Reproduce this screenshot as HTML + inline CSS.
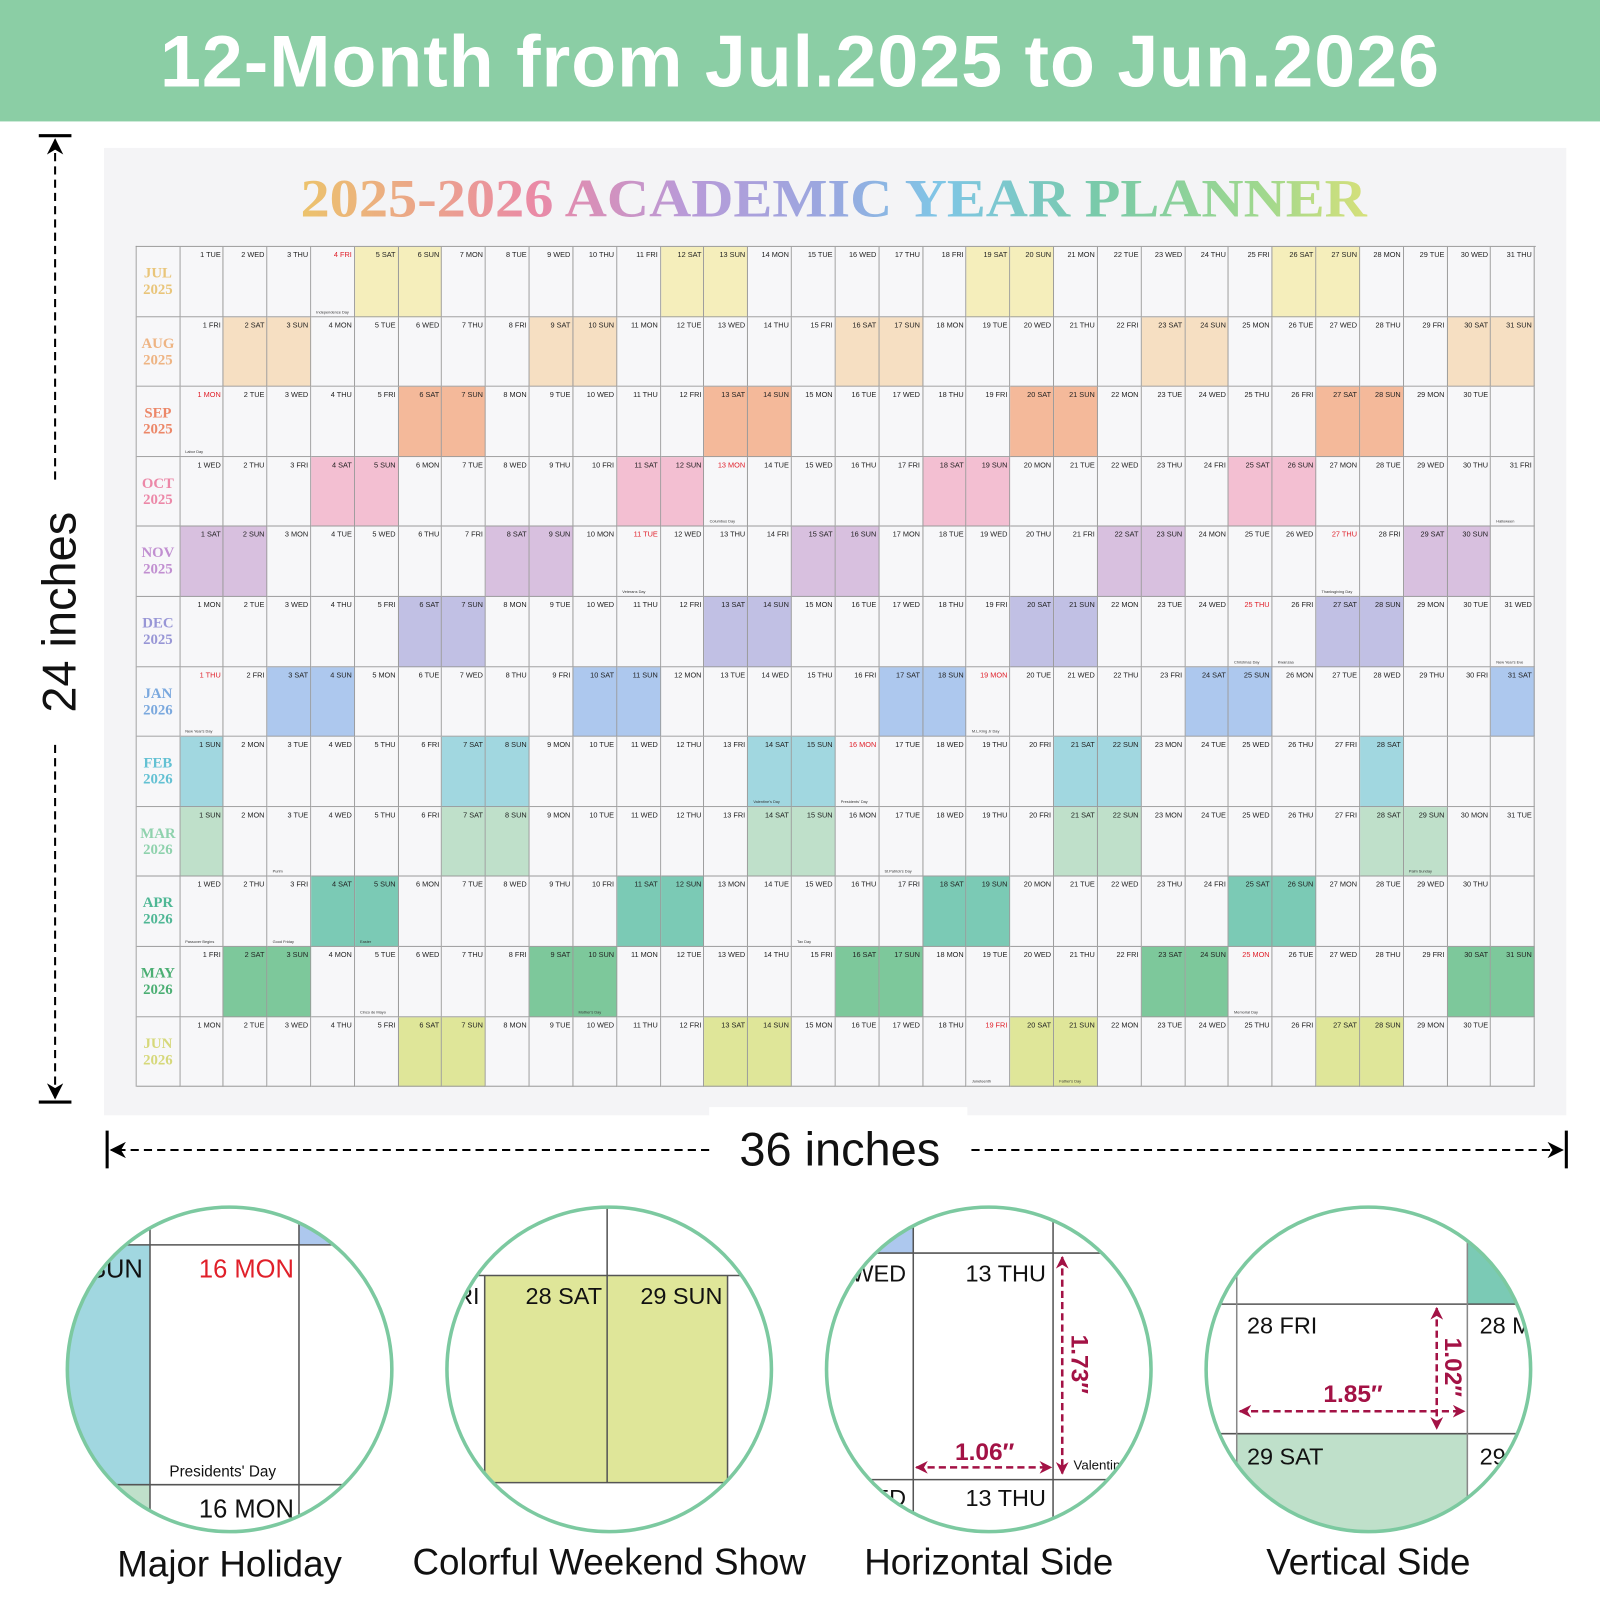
<!DOCTYPE html>
<html><head><meta charset="utf-8"><style>
*{margin:0;padding:0;box-sizing:border-box}
html,body{width:1600px;height:1600px;overflow:hidden;background:#fff}
#s{position:absolute;left:0;top:0;width:1568px;height:1568px;transform:scale(1.020408);transform-origin:0 0;font-family:"Liberation Sans",sans-serif}
.ban{position:absolute;left:0;top:0;width:1568px;height:119px;background:#8bcea5;color:#fff;font-weight:bold;font-size:72px;text-align:center;line-height:122px;letter-spacing:1px}
.pl{position:absolute;left:102px;top:145px;width:1433px;height:948px;background:#f4f4f6}
.gap{position:absolute;left:695px;top:1085px;width:253px;height:10px;background:#fff}
.g{position:absolute;left:133px;top:241px;width:1372px;border-top:1px solid #9a9a9a;border-left:1px solid #9a9a9a}
.r{display:flex;height:68.6px}
.r>*{flex:0 0 42.84px;border-right:1px solid #9a9a9a;border-bottom:1px solid #9a9a9a;background:#f7f7f9;position:relative;font-style:normal;font-size:7.2px;text-align:right;padding:3px 2px 0 0;color:#222;white-space:nowrap;overflow:hidden}
.r>b{flex:0 0 42.5px;font-family:"Liberation Serif",serif;font-weight:bold;font-size:14.5px;line-height:16px;text-align:center;padding:18px 0 0 0}
.r>.h{color:#e0202a}
.r s{position:absolute;left:5px;bottom:2px;font-size:3.8px;text-decoration:none;color:#333}
.m7 .w{background:#f5eebb}.m7 b{color:#e9c57a}
.m8 .w{background:#f6dfc2}.m8 b{color:#eeb483}
.m9 .w{background:#f4b99a}.m9 b{color:#ec8768}
.m10 .w{background:#f3bfd2}.m10 b{color:#ec88a8}
.m11 .w{background:#d8c0df}.m11 b{color:#c18fd1}
.m12 .w{background:#c1c0e4}.m12 b{color:#9896d6}
.m1 .w{background:#adc8ee}.m1 b{color:#7aa8de}
.m2 .w{background:#a1d7e0}.m2 b{color:#63c1d3}
.m3 .w{background:#bfe0ca}.m3 b{color:#8fd2ad}
.m4 .w{background:#7bcab5}.m4 b{color:#4fb795}
.m5 .w{background:#7dc89b}.m5 b{color:#4caf74}
.m6 .w{background:#dfe699}.m6 b{color:#d6d87a}
.cap{position:absolute;font-size:36px;color:#111;text-align:center;width:400px}
</style></head><body><div id="s">
<div class="ban">12-Month from Jul.2025 to Jun.2026</div>
<div class="pl"></div>
<div class="gap"></div>
<svg style="position:absolute;left:0;top:0" width="1568" height="1568">
<defs><linearGradient id="tg" x1="295" y1="0" x2="1340" y2="0" gradientUnits="userSpaceOnUse">
<stop offset="0" stop-color="#ecc36c"/><stop offset="0.12" stop-color="#eba38c"/><stop offset="0.22" stop-color="#ea8aa6"/><stop offset="0.36" stop-color="#b99ad8"/><stop offset="0.5" stop-color="#98a8e0"/><stop offset="0.6" stop-color="#7fc6e6"/><stop offset="0.75" stop-color="#79caa8"/><stop offset="0.9" stop-color="#9fd88e"/><stop offset="1" stop-color="#d6e07a"/></linearGradient>
<marker id="ak" viewBox="0 0 10 10" refX="9" refY="5" markerWidth="8" markerHeight="8" orient="auto-start-reverse"><path d="M0,0 L10,5 L0,10 L3,5z" fill="#000"/></marker>
<marker id="ar" viewBox="0 0 10 10" refX="9" refY="5" markerWidth="5" markerHeight="5" orient="auto-start-reverse"><path d="M0,0 L10,5 L0,10 L3,5z" fill="#a31245"/></marker>
<clipPath id="c1"><circle cx="225" cy="1342" r="159"/></clipPath>
<clipPath id="c2"><circle cx="597" cy="1342" r="159"/></clipPath>
<clipPath id="c3"><circle cx="969" cy="1342" r="159"/></clipPath>
<clipPath id="c4"><circle cx="1341" cy="1342" r="159"/></clipPath>
</defs>
<text x="817" y="212" text-anchor="middle" font-family="Liberation Serif,serif" font-weight="bold" font-size="53" fill="url(#tg)" textLength="1045" lengthAdjust="spacingAndGlyphs">2025-2026 ACADEMIC YEAR PLANNER</text>
<line x1="38" y1="133" x2="70" y2="133" stroke="#000" stroke-width="3"/>
<line x1="38" y1="1080" x2="70" y2="1080" stroke="#000" stroke-width="3"/>
<line x1="54" y1="470" x2="54" y2="137" stroke="#000" stroke-width="2" stroke-dasharray="8,5" marker-end="url(#ak)"/>
<line x1="54" y1="730" x2="54" y2="1076" stroke="#000" stroke-width="2" stroke-dasharray="8,5" marker-end="url(#ak)"/>
<text transform="translate(74,600) rotate(-90)" text-anchor="middle" font-size="46" font-family="Liberation Sans,sans-serif" fill="#111">24 inches</text>
<line x1="105" y1="1108" x2="105" y2="1145" stroke="#000" stroke-width="3"/>
<line x1="1535" y1="1108" x2="1535" y2="1145" stroke="#000" stroke-width="3"/>
<line x1="695" y1="1127" x2="109" y2="1127" stroke="#000" stroke-width="2" stroke-dasharray="8,5" marker-end="url(#ak)"/>
<line x1="952" y1="1127" x2="1531" y2="1127" stroke="#000" stroke-width="2" stroke-dasharray="8,5" marker-end="url(#ak)"/>
<text x="823" y="1142" text-anchor="middle" font-size="46" font-family="Liberation Sans,sans-serif" fill="#111">36 inches</text>
<g clip-path="url(#c1)" font-family="Liberation Sans,sans-serif">
<rect x="60" y="1180" width="330" height="330" fill="#fff"/>
<rect x="60" y="1220" width="87" height="235" fill="#a1d7e0"/>
<rect x="293" y="1180" width="40" height="40" fill="#adc8ee"/>
<rect x="60" y="1455" width="87" height="60" fill="#bfe0ca"/>
<line x1="60" y1="1220" x2="390" y2="1220" stroke="#555" stroke-width="1.5"/>
<line x1="60" y1="1455" x2="390" y2="1455" stroke="#555" stroke-width="1.5"/>
<line x1="147" y1="1180" x2="147" y2="1510" stroke="#555" stroke-width="1.5"/>
<line x1="293" y1="1180" x2="293" y2="1510" stroke="#555" stroke-width="1.5"/>
<text x="140" y="1252" text-anchor="end" font-size="25" fill="#111">SUN</text>
<text x="288" y="1252" text-anchor="end" font-size="25" fill="#e0202a">16 MON</text>
<text x="166" y="1447" font-size="15" fill="#111">Presidents' Day</text>
<text x="288" y="1487" text-anchor="end" font-size="25" fill="#111">16 MON</text>
</g>
<circle cx="225" cy="1342" r="159" fill="none" stroke="#7cc9a0" stroke-width="3.5"/>
<g clip-path="url(#c2)" font-family="Liberation Sans,sans-serif">
<rect x="430" y="1180" width="340" height="330" fill="#fff"/>
<rect x="475" y="1250" width="238" height="203" fill="#dfe699"/>
<line x1="430" y1="1250" x2="770" y2="1250" stroke="#555" stroke-width="1.5"/>
<line x1="475" y1="1453" x2="713" y2="1453" stroke="#555" stroke-width="1.5"/>
<line x1="595" y1="1180" x2="595" y2="1453" stroke="#555" stroke-width="1.5"/>
<line x1="475" y1="1250" x2="475" y2="1453" stroke="#555" stroke-width="1.5"/>
<line x1="713" y1="1250" x2="713" y2="1453" stroke="#555" stroke-width="1.5"/>
<text x="470" y="1278" text-anchor="end" font-size="23" fill="#111">FRI</text>
<text x="590" y="1278" text-anchor="end" font-size="23" fill="#111">28 SAT</text>
<text x="708" y="1278" text-anchor="end" font-size="23" fill="#111">29 SUN</text>
</g>
<circle cx="597" cy="1342" r="159" fill="none" stroke="#7cc9a0" stroke-width="3.5"/>
<g clip-path="url(#c3)" font-family="Liberation Sans,sans-serif">
<rect x="800" y="1180" width="340" height="330" fill="#fff"/>
<rect x="800" y="1180" width="95" height="48" fill="#adc8ee"/>
<line x1="800" y1="1228" x2="1140" y2="1228" stroke="#555" stroke-width="1.5"/>
<line x1="800" y1="1450" x2="1140" y2="1450" stroke="#555" stroke-width="1.5"/>
<line x1="895" y1="1180" x2="895" y2="1510" stroke="#555" stroke-width="1.5"/>
<line x1="1032" y1="1180" x2="1032" y2="1510" stroke="#555" stroke-width="1.5"/>
<text x="888" y="1256" text-anchor="end" font-size="23" fill="#111">WED</text>
<text x="1025" y="1256" text-anchor="end" font-size="23" fill="#111">13 THU</text>
<text x="1100" y="1256" font-size="23" fill="#111">1</text>
<text x="888" y="1476" text-anchor="end" font-size="23" fill="#111">ED</text>
<text x="1025" y="1476" text-anchor="end" font-size="23" fill="#111">13 THU</text>
<text x="1052" y="1440" font-size="13" fill="#111">Valentine</text>
<line x1="1041" y1="1232" x2="1041" y2="1444" stroke="#a31245" stroke-width="2.5" stroke-dasharray="7,4" marker-start="url(#ar)" marker-end="url(#ar)"/>
<line x1="898" y1="1438" x2="1030" y2="1438" stroke="#a31245" stroke-width="2.5" stroke-dasharray="7,4" marker-start="url(#ar)" marker-end="url(#ar)"/>
<text x="965" y="1431" text-anchor="middle" font-size="24" font-weight="bold" fill="#a31245">1.06″</text>
<text transform="translate(1050,1337) rotate(90)" text-anchor="middle" font-size="24" font-weight="bold" fill="#a31245">1.73″</text>
</g>
<circle cx="969" cy="1342" r="159" fill="none" stroke="#7cc9a0" stroke-width="3.5"/>
<g clip-path="url(#c4)" font-family="Liberation Sans,sans-serif">
<rect x="1170" y="1180" width="340" height="330" fill="#fff"/>
<rect x="1438" y="1180" width="80" height="98" fill="#7bcab5"/>
<rect x="1212" y="1405" width="226" height="110" fill="#bfe0ca"/>
<line x1="1170" y1="1278" x2="1510" y2="1278" stroke="#555" stroke-width="1.5"/>
<line x1="1170" y1="1405" x2="1510" y2="1405" stroke="#555" stroke-width="1.5"/>
<line x1="1212" y1="1180" x2="1212" y2="1510" stroke="#888" stroke-width="1.5"/>
<line x1="1438" y1="1180" x2="1438" y2="1510" stroke="#888" stroke-width="1.5"/>
<text x="1222" y="1307" font-size="23" fill="#111">28 FRI</text>
<text x="1450" y="1307" font-size="23" fill="#111">28 MON</text>
<text x="1222" y="1435" font-size="23" fill="#111">29 SAT</text>
<text x="1450" y="1435" font-size="23" fill="#111">29</text>
<line x1="1408" y1="1282" x2="1408" y2="1400" stroke="#a31245" stroke-width="2.5" stroke-dasharray="7,4" marker-start="url(#ar)" marker-end="url(#ar)"/>
<line x1="1215" y1="1383" x2="1435" y2="1383" stroke="#a31245" stroke-width="2.5" stroke-dasharray="7,4" marker-start="url(#ar)" marker-end="url(#ar)"/>
<text x="1326" y="1374" text-anchor="middle" font-size="24" font-weight="bold" fill="#a31245">1.85″</text>
<text transform="translate(1416,1340) rotate(90)" text-anchor="middle" font-size="24" font-weight="bold" fill="#a31245">1.02″</text>
</g>
<circle cx="1341" cy="1342" r="159" fill="none" stroke="#7cc9a0" stroke-width="3.5"/>
</svg>
<div class="cap" style="left:25px;top:1512px">Major Holiday</div>
<div class="cap" style="left:397px;top:1510px">Colorful Weekend Show</div>
<div class="cap" style="left:769px;top:1510px">Horizontal Side</div>
<div class="cap" style="left:1141px;top:1510px">Vertical Side</div>

<div class="g">
<div class="r m7"><b>JUL<br>2025</b><i>1 TUE</i><i>2 WED</i><i>3 THU</i><i class="h">4 FRI<s>Independence Day</s></i><i class="w">5 SAT</i><i class="w">6 SUN</i><i>7 MON</i><i>8 TUE</i><i>9 WED</i><i>10 THU</i><i>11 FRI</i><i class="w">12 SAT</i><i class="w">13 SUN</i><i>14 MON</i><i>15 TUE</i><i>16 WED</i><i>17 THU</i><i>18 FRI</i><i class="w">19 SAT</i><i class="w">20 SUN</i><i>21 MON</i><i>22 TUE</i><i>23 WED</i><i>24 THU</i><i>25 FRI</i><i class="w">26 SAT</i><i class="w">27 SUN</i><i>28 MON</i><i>29 TUE</i><i>30 WED</i><i>31 THU</i></div>
<div class="r m8"><b>AUG<br>2025</b><i>1 FRI</i><i class="w">2 SAT</i><i class="w">3 SUN</i><i>4 MON</i><i>5 TUE</i><i>6 WED</i><i>7 THU</i><i>8 FRI</i><i class="w">9 SAT</i><i class="w">10 SUN</i><i>11 MON</i><i>12 TUE</i><i>13 WED</i><i>14 THU</i><i>15 FRI</i><i class="w">16 SAT</i><i class="w">17 SUN</i><i>18 MON</i><i>19 TUE</i><i>20 WED</i><i>21 THU</i><i>22 FRI</i><i class="w">23 SAT</i><i class="w">24 SUN</i><i>25 MON</i><i>26 TUE</i><i>27 WED</i><i>28 THU</i><i>29 FRI</i><i class="w">30 SAT</i><i class="w">31 SUN</i></div>
<div class="r m9"><b>SEP<br>2025</b><i class="h">1 MON<s>Labor Day</s></i><i>2 TUE</i><i>3 WED</i><i>4 THU</i><i>5 FRI</i><i class="w">6 SAT</i><i class="w">7 SUN</i><i>8 MON</i><i>9 TUE</i><i>10 WED</i><i>11 THU</i><i>12 FRI</i><i class="w">13 SAT</i><i class="w">14 SUN</i><i>15 MON</i><i>16 TUE</i><i>17 WED</i><i>18 THU</i><i>19 FRI</i><i class="w">20 SAT</i><i class="w">21 SUN</i><i>22 MON</i><i>23 TUE</i><i>24 WED</i><i>25 THU</i><i>26 FRI</i><i class="w">27 SAT</i><i class="w">28 SUN</i><i>29 MON</i><i>30 TUE</i><i></i></div>
<div class="r m10"><b>OCT<br>2025</b><i>1 WED</i><i>2 THU</i><i>3 FRI</i><i class="w">4 SAT</i><i class="w">5 SUN</i><i>6 MON</i><i>7 TUE</i><i>8 WED</i><i>9 THU</i><i>10 FRI</i><i class="w">11 SAT</i><i class="w">12 SUN</i><i class="h">13 MON<s>Columbus Day</s></i><i>14 TUE</i><i>15 WED</i><i>16 THU</i><i>17 FRI</i><i class="w">18 SAT</i><i class="w">19 SUN</i><i>20 MON</i><i>21 TUE</i><i>22 WED</i><i>23 THU</i><i>24 FRI</i><i class="w">25 SAT</i><i class="w">26 SUN</i><i>27 MON</i><i>28 TUE</i><i>29 WED</i><i>30 THU</i><i>31 FRI<s>Halloween</s></i></div>
<div class="r m11"><b>NOV<br>2025</b><i class="w">1 SAT</i><i class="w">2 SUN</i><i>3 MON</i><i>4 TUE</i><i>5 WED</i><i>6 THU</i><i>7 FRI</i><i class="w">8 SAT</i><i class="w">9 SUN</i><i>10 MON</i><i class="h">11 TUE<s>Veterans Day</s></i><i>12 WED</i><i>13 THU</i><i>14 FRI</i><i class="w">15 SAT</i><i class="w">16 SUN</i><i>17 MON</i><i>18 TUE</i><i>19 WED</i><i>20 THU</i><i>21 FRI</i><i class="w">22 SAT</i><i class="w">23 SUN</i><i>24 MON</i><i>25 TUE</i><i>26 WED</i><i class="h">27 THU<s>Thanksgiving Day</s></i><i>28 FRI</i><i class="w">29 SAT</i><i class="w">30 SUN</i><i></i></div>
<div class="r m12"><b>DEC<br>2025</b><i>1 MON</i><i>2 TUE</i><i>3 WED</i><i>4 THU</i><i>5 FRI</i><i class="w">6 SAT</i><i class="w">7 SUN</i><i>8 MON</i><i>9 TUE</i><i>10 WED</i><i>11 THU</i><i>12 FRI</i><i class="w">13 SAT</i><i class="w">14 SUN</i><i>15 MON</i><i>16 TUE</i><i>17 WED</i><i>18 THU</i><i>19 FRI</i><i class="w">20 SAT</i><i class="w">21 SUN</i><i>22 MON</i><i>23 TUE</i><i>24 WED</i><i class="h">25 THU<s>Christmas Day</s></i><i>26 FRI<s>Kwanzaa</s></i><i class="w">27 SAT</i><i class="w">28 SUN</i><i>29 MON</i><i>30 TUE</i><i>31 WED<s>New Year's Eve</s></i></div>
<div class="r m1"><b>JAN<br>2026</b><i class="h">1 THU<s>New Year's Day</s></i><i>2 FRI</i><i class="w">3 SAT</i><i class="w">4 SUN</i><i>5 MON</i><i>6 TUE</i><i>7 WED</i><i>8 THU</i><i>9 FRI</i><i class="w">10 SAT</i><i class="w">11 SUN</i><i>12 MON</i><i>13 TUE</i><i>14 WED</i><i>15 THU</i><i>16 FRI</i><i class="w">17 SAT</i><i class="w">18 SUN</i><i class="h">19 MON<s>M.L.King Jr Day</s></i><i>20 TUE</i><i>21 WED</i><i>22 THU</i><i>23 FRI</i><i class="w">24 SAT</i><i class="w">25 SUN</i><i>26 MON</i><i>27 TUE</i><i>28 WED</i><i>29 THU</i><i>30 FRI</i><i class="w">31 SAT</i></div>
<div class="r m2"><b>FEB<br>2026</b><i class="w">1 SUN</i><i>2 MON</i><i>3 TUE</i><i>4 WED</i><i>5 THU</i><i>6 FRI</i><i class="w">7 SAT</i><i class="w">8 SUN</i><i>9 MON</i><i>10 TUE</i><i>11 WED</i><i>12 THU</i><i>13 FRI</i><i class="w">14 SAT<s>Valentine's Day</s></i><i class="w">15 SUN</i><i class="h">16 MON<s>Presidents' Day</s></i><i>17 TUE</i><i>18 WED</i><i>19 THU</i><i>20 FRI</i><i class="w">21 SAT</i><i class="w">22 SUN</i><i>23 MON</i><i>24 TUE</i><i>25 WED</i><i>26 THU</i><i>27 FRI</i><i class="w">28 SAT</i><i></i><i></i><i></i></div>
<div class="r m3"><b>MAR<br>2026</b><i class="w">1 SUN</i><i>2 MON</i><i>3 TUE<s>Purim</s></i><i>4 WED</i><i>5 THU</i><i>6 FRI</i><i class="w">7 SAT</i><i class="w">8 SUN</i><i>9 MON</i><i>10 TUE</i><i>11 WED</i><i>12 THU</i><i>13 FRI</i><i class="w">14 SAT</i><i class="w">15 SUN</i><i>16 MON</i><i>17 TUE<s>St.Patrick's Day</s></i><i>18 WED</i><i>19 THU</i><i>20 FRI</i><i class="w">21 SAT</i><i class="w">22 SUN</i><i>23 MON</i><i>24 TUE</i><i>25 WED</i><i>26 THU</i><i>27 FRI</i><i class="w">28 SAT</i><i class="w">29 SUN<s>Palm Sunday</s></i><i>30 MON</i><i>31 TUE</i></div>
<div class="r m4"><b>APR<br>2026</b><i>1 WED<s>Passover Begins</s></i><i>2 THU</i><i>3 FRI<s>Good Friday</s></i><i class="w">4 SAT</i><i class="w">5 SUN<s>Easter</s></i><i>6 MON</i><i>7 TUE</i><i>8 WED</i><i>9 THU</i><i>10 FRI</i><i class="w">11 SAT</i><i class="w">12 SUN</i><i>13 MON</i><i>14 TUE</i><i>15 WED<s>Tax Day</s></i><i>16 THU</i><i>17 FRI</i><i class="w">18 SAT</i><i class="w">19 SUN</i><i>20 MON</i><i>21 TUE</i><i>22 WED</i><i>23 THU</i><i>24 FRI</i><i class="w">25 SAT</i><i class="w">26 SUN</i><i>27 MON</i><i>28 TUE</i><i>29 WED</i><i>30 THU</i><i></i></div>
<div class="r m5"><b>MAY<br>2026</b><i>1 FRI</i><i class="w">2 SAT</i><i class="w">3 SUN</i><i>4 MON</i><i>5 TUE<s>Cinco de Mayo</s></i><i>6 WED</i><i>7 THU</i><i>8 FRI</i><i class="w">9 SAT</i><i class="w">10 SUN<s>Mother's Day</s></i><i>11 MON</i><i>12 TUE</i><i>13 WED</i><i>14 THU</i><i>15 FRI</i><i class="w">16 SAT</i><i class="w">17 SUN</i><i>18 MON</i><i>19 TUE</i><i>20 WED</i><i>21 THU</i><i>22 FRI</i><i class="w">23 SAT</i><i class="w">24 SUN</i><i class="h">25 MON<s>Memorial Day</s></i><i>26 TUE</i><i>27 WED</i><i>28 THU</i><i>29 FRI</i><i class="w">30 SAT</i><i class="w">31 SUN</i></div>
<div class="r m6"><b>JUN<br>2026</b><i>1 MON</i><i>2 TUE</i><i>3 WED</i><i>4 THU</i><i>5 FRI</i><i class="w">6 SAT</i><i class="w">7 SUN</i><i>8 MON</i><i>9 TUE</i><i>10 WED</i><i>11 THU</i><i>12 FRI</i><i class="w">13 SAT</i><i class="w">14 SUN</i><i>15 MON</i><i>16 TUE</i><i>17 WED</i><i>18 THU</i><i class="h">19 FRI<s>Juneteenth</s></i><i class="w">20 SAT</i><i class="w">21 SUN<s>Father's Day</s></i><i>22 MON</i><i>23 TUE</i><i>24 WED</i><i>25 THU</i><i>26 FRI</i><i class="w">27 SAT</i><i class="w">28 SUN</i><i>29 MON</i><i>30 TUE</i><i></i></div>
</div>
</div></body></html>
